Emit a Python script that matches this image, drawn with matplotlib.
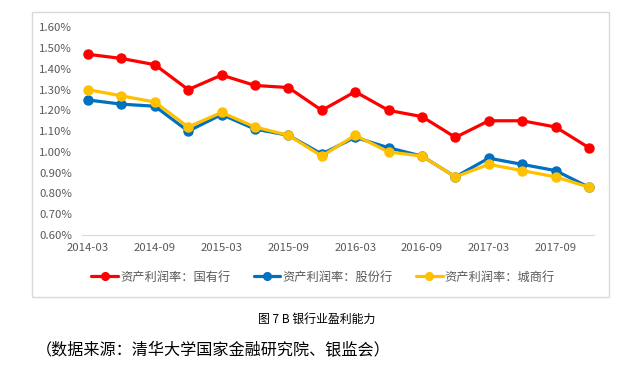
import matplotlib
matplotlib.use("Agg")
import matplotlib.pyplot as plt
from matplotlib.patches import Rectangle
from matplotlib.ticker import FuncFormatter, MultipleLocator

plt.rcParams['font.family'] = ['Noto Sans CJK SC', 'DejaVu Sans']

periods = ["2014-03", "2014-06", "2014-09", "2014-12",
           "2015-03", "2015-06", "2015-09", "2015-12",
           "2016-03", "2016-06", "2016-09", "2016-12",
           "2017-03", "2017-06", "2017-09", "2017-12"]
tick_labels = ["2014-03", "2014-09", "2015-03", "2015-09",
               "2016-03", "2016-09", "2017-03", "2017-09"]

state_owned = [1.47, 1.45, 1.42, 1.30, 1.37, 1.32, 1.31, 1.20,
               1.29, 1.20, 1.17, 1.07, 1.15, 1.15, 1.12, 1.02]
joint_stock = [1.25, 1.23, 1.22, 1.10, 1.18, 1.11, 1.08, 0.99,
               1.07, 1.02, 0.98, 0.88, 0.97, 0.94, 0.91, 0.83]
city_comm = [1.30, 1.27, 1.24, 1.12, 1.19, 1.12, 1.08, 0.98,
             1.08, 1.00, 0.98, 0.88, 0.94, 0.91, 0.88, 0.83]

series_names = ["资产利润率：国有行", "资产利润率：股份行", "资产利润率：城商行"]
colors = ["#FF0000", "#0070C0", "#FFC000"]

W, H = 637, 371
fig = plt.figure(figsize=(W / 100, H / 100), dpi=100)

# chart border
fig.patches.append(Rectangle((32 / W, 1 - 297 / H), (609 - 32) / W, (297 - 12) / H,
                             transform=fig.transFigure, fill=False,
                             edgecolor="#D9D9D9", linewidth=1.0))

ax = fig.add_axes([82 / W, 1 - 235 / H, (594 - 82) / W, (235 - 27.3) / H])
x = list(range(len(periods)))
for vals, name, c in zip([state_owned, joint_stock, city_comm], series_names, colors):
    ax.plot(x, vals, color=c, linewidth=2.3, marker='o', markersize=6.5,
            label=name, solid_capstyle='round')

ax.set_ylim(0.60, 1.60)
ax.set_xlim(-0.18, 15.15)
ax.yaxis.set_major_locator(MultipleLocator(0.10))
ax.yaxis.set_major_formatter(FuncFormatter(lambda v, p: f"{v:.2f}%"))
ax.set_xticks(x[::2])
ax.set_xticklabels(tick_labels)
for s in ["top", "right", "left"]:
    ax.spines[s].set_visible(False)
ax.spines["bottom"].set_color("#D9D9D9")
ax.tick_params(axis='both', length=0, labelsize=8.2, colors="#595959")
ax.tick_params(axis='x', pad=6)
ax.tick_params(axis='y', pad=7)

fig.legend(loc='center', bbox_to_anchor=(323 / W, 1 - 277 / H), ncol=3, frameon=False,
           fontsize=8.8, handlelength=2.2, handletextpad=0.15, columnspacing=1.9,
           markerscale=0.85, labelcolor="#595959")

fig.text(317 / W, 1 - 319 / H, "图 7 B 银行业盈利能力", fontsize=8.6, ha='center', va='center',
         color="#000000")
fig.text(36 / W, 1 - 350 / H, "（数据来源：清华大学国家金融研究院、银监会）", fontsize=11.6,
         ha='left', va='center', color="#000000")

fig.savefig("out.png", dpi=100)
